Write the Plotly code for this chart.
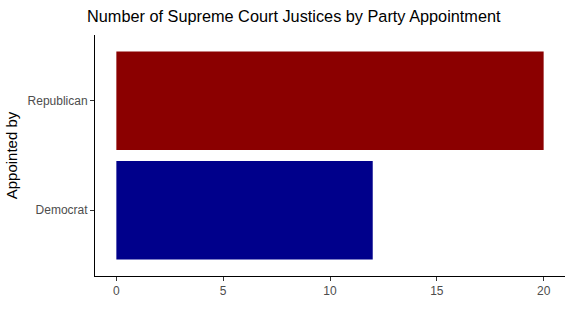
import plotly.graph_objects as go

parties = ["Democrat", "Republican"]
justices = [12, 20]
colors = ["#00008B", "#8B0000"]
x_ticks = [0, 5, 10, 15, 20]

fig = go.Figure(go.Bar(
    x=justices, y=parties, orientation="h",
    marker=dict(color=colors, line=dict(width=0)),
    width=0.9,
))

fig.update_layout(
    width=573, height=322,
    margin=dict(l=95, r=8, t=35, b=46),
    paper_bgcolor="white", plot_bgcolor="white",
    font=dict(family="Liberation Sans, Arial, sans-serif"),
    showlegend=False,
    title=dict(
        text="Number of Supreme Court Justices by Party Appointment",
        x=87/573, xanchor="left", xref="container",
        y=1 - 16/322, yanchor="middle", yref="container",
        font=dict(size=16.3, color="black"),
    ),
)
fig.update_xaxes(
    range=[-1, 21], tickvals=x_ticks, showgrid=False, zeroline=False,
    showline=True, linecolor="black", linewidth=1,
    ticks="outside", ticklen=4, tickcolor="#333333",
    tickfont=dict(size=12, color="#4D4D4D"),
)
fig.update_yaxes(
    range=[-0.6, 1.6], categoryorder="array", categoryarray=parties,
    showgrid=False, zeroline=False,
    showline=True, linecolor="black", linewidth=1,
    ticks="outside", ticklen=4, tickcolor="#333333",
    tickfont=dict(size=12, color="#4D4D4D"),
    title=dict(text="Appointed by", font=dict(size=15, color="black"), standoff=6),
)

fig.write_html("out.html")
